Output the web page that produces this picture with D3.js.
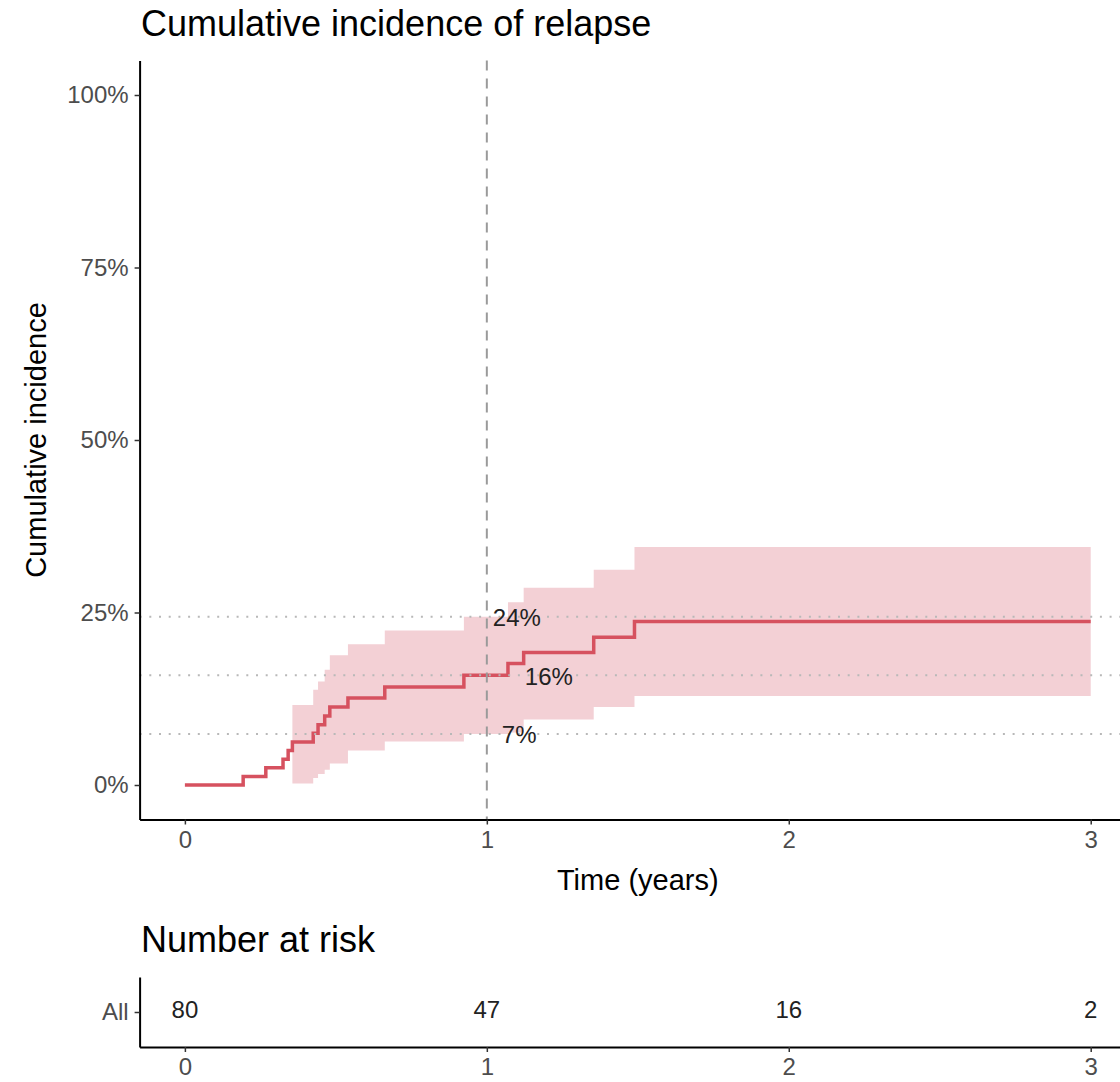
<!DOCTYPE html>
<html>
<head>
<meta charset="utf-8">
<script src="https://cdn.jsdelivr.net/npm/d3@7"></script>
<style>
  html, body { margin: 0; padding: 0; background: #ffffff; }
  svg { display: block; font-family: "Liberation Sans", Arial, Helvetica, sans-serif; }
</style>
</head>
<body>
<svg id="chart" width="1120" height="1082"></svg>
<script>
// ---- data ----
const times     = [0, 0.193, 0.268, 0.325, 0.342, 0.356, 0.425, 0.441, 0.463, 0.48, 0.54, 0.662, 0.924, 1.07, 1.122, 1.354, 1.489, 3.0];
const estimate  = [0, 0.0125, 0.025, 0.0375, 0.05, 0.0625, 0.075, 0.0875, 0.10, 0.113, 0.126, 0.142, 0.159, 0.176, 0.192, 0.214, 0.237, 0.237];
const ciLower   = [null, null, null, null, null, 0.002, 0.010, 0.016, 0.022, 0.031, 0.050, 0.063, 0.074, 0.076, 0.095, 0.113, 0.129, 0.129];
const ciUpper   = [null, null, null, null, null, 0.116, 0.138, 0.150, 0.167, 0.188, 0.204, 0.224, 0.244, 0.265, 0.286, 0.312, 0.345, 0.345];
const yTicks    = [0, 0.25, 0.5, 0.75, 1];
const yTickLabels = ["0%", "25%", "50%", "75%", "100%"];
const xTicks    = [0, 1, 2, 3];
const refTime   = 1;
const refValues = [0.244, 0.159, 0.074];
const refLabels = ["24%", "16%", "7%"];
const riskGroups = ["All"];
const riskTimes  = [0, 1, 2, 3];
const riskCounts = [80, 47, 16, 2];

// ---- layout ----
const svg = d3.select("#chart");
const panel = { left: 139.6, right: 1136, top: 60.5, bottom: 819.5 };
const table = { top: 977, bottom: 1047 };
const lineColor = "#d6515f";
const bandColor = "#f3d0d5";
const tickColor = "#4d4d4d";
const fs = 24;

const x = d3.scaleLinear().domain([-0.15, 3.15]).range([panel.left, panel.right]);
const y = d3.scaleLinear().domain([-0.05, 1.05]).range([panel.bottom, panel.top]);

const pts = times.map((t, i) => ({ t, est: estimate[i], lo: ciLower[i], hi: ciUpper[i] }));

// CI band
const area = d3.area()
  .defined(d => d.lo !== null && d.hi !== null)
  .curve(d3.curveStepAfter)
  .x(d => x(d.t)).y0(d => y(d.lo)).y1(d => y(d.hi));
svg.append("path").datum(pts).attr("d", area).attr("fill", bandColor);

// step line
const line = d3.line().curve(d3.curveStepAfter).x(d => x(d.t)).y(d => y(d.est));
svg.append("path").datum(pts).attr("d", line)
  .attr("fill", "none").attr("stroke", lineColor).attr("stroke-width", 3.5);

// reference lines
svg.append("g").selectAll("line").data(refValues).join("line")
  .attr("x1", panel.left).attr("x2", panel.right)
  .attr("y1", d => y(d)).attr("y2", d => y(d))
  .attr("stroke", "#b8b8b8").attr("stroke-width", 2)
  .attr("stroke-dasharray", "2,7.7");
svg.append("line")
  .attr("x1", x(refTime)).attr("x2", x(refTime))
  .attr("y1", panel.top).attr("y2", panel.bottom)
  .attr("stroke", "#9a9a9a").attr("stroke-width", 2)
  .attr("stroke-dasharray", "10,8");

// reference labels
const labelDx = [6, 38, 15];
svg.append("g").selectAll("text").data(refValues).join("text")
  .attr("x", (d, i) => x(refTime) + labelDx[i])
  .attr("y", d => y(d) + 3)
  .attr("dominant-baseline", "middle")
  .attr("font-size", fs).attr("fill", "#222")
  .text((d, i) => refLabels[i]);

// axes
function styleAxis(g) {
  g.select(".domain").attr("stroke", "#000").attr("stroke-width", 2);
  g.selectAll(".tick line").attr("stroke", "#333").attr("stroke-width", 1.5);
  g.selectAll(".tick text").attr("fill", tickColor).attr("font-size", fs)
    .attr("font-family", "Liberation Sans, Arial, sans-serif");
}
svg.append("g").attr("transform", `translate(0,${panel.bottom})`)
  .call(d3.axisBottom(x).tickValues(xTicks).tickFormat(d3.format("d")).tickSize(5).tickPadding(6).tickSizeOuter(0))
  .call(styleAxis);
svg.append("g").attr("transform", `translate(${panel.left},0)`)
  .call(d3.axisLeft(y).tickValues(yTicks).tickFormat((d, i) => yTickLabels[i]).tickSize(5).tickPadding(6).tickSizeOuter(0))
  .call(styleAxis);

// titles
svg.append("text").attr("x", 141).attr("y", 36).attr("font-size", 36).attr("fill", "#000")
  .text("Cumulative incidence of relapse");
svg.append("text").attr("x", (panel.left + panel.right) / 2).attr("y", 890)
  .attr("text-anchor", "middle").attr("font-size", 29).attr("fill", "#000")
  .text("Time (years)");
svg.append("text").attr("transform", `translate(46,${(panel.top + panel.bottom) / 2}) rotate(-90)`)
  .attr("text-anchor", "middle").attr("font-size", 29).attr("fill", "#000")
  .text("Cumulative incidence");

// risk table
svg.append("text").attr("x", 141).attr("y", 952).attr("font-size", 36).attr("fill", "#000")
  .text("Number at risk");
const ty = d3.scalePoint().domain(riskGroups).range([table.top, table.bottom]).padding(0.5);
svg.append("g").attr("transform", `translate(0,${table.bottom})`)
  .call(d3.axisBottom(x).tickValues(xTicks).tickFormat(d3.format("d")).tickSize(5).tickPadding(6).tickSizeOuter(0))
  .call(styleAxis);
svg.append("g").attr("transform", `translate(${panel.left},0)`)
  .call(d3.axisLeft(ty).tickSize(5).tickPadding(6).tickSizeOuter(0))
  .call(styleAxis);
svg.append("g").selectAll("text").data(riskTimes).join("text")
  .attr("x", d => x(d)).attr("y", ty(riskGroups[0]))
  .attr("text-anchor", "middle").attr("dominant-baseline", "middle")
  .attr("font-size", fs).attr("fill", "#222")
  .text((d, i) => riskCounts[i]);
</script>
</body>
</html>
